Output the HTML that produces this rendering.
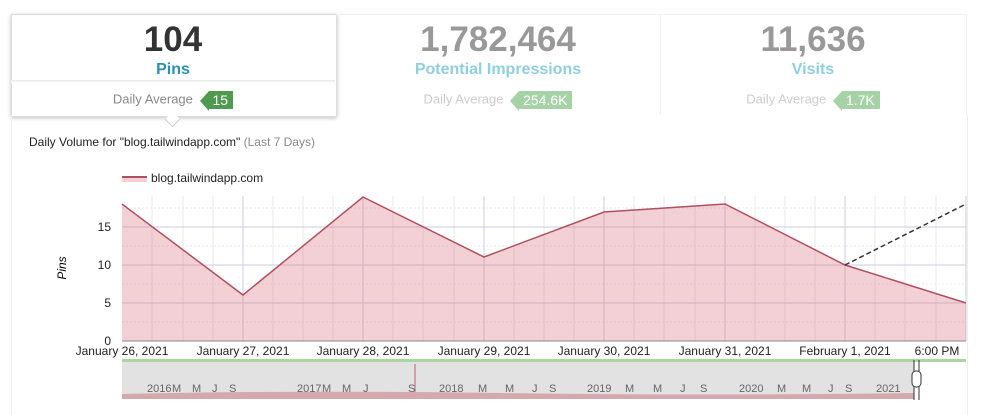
<!DOCTYPE html><html><head><style>
body{margin:0;width:1000px;height:408px;background:#fff;font-family:"Liberation Sans",sans-serif;overflow:hidden;position:relative}
.t{position:absolute;text-align:center}
.n{font-size:35px;font-weight:bold}
.l{font-size:16px;font-weight:bold}
.d{font-size:13px;color:#888}
.tag{display:inline-block;position:relative;color:#fff;font-size:14px;padding:1px 5px 1px 4px;margin-left:12px;vertical-align:middle}
.tag:before{content:"";position:absolute;left:-9px;top:0;border-right:9px solid;border-right-color:inherit;border-top:10px solid transparent;border-bottom:10px solid transparent}
</style></head><body>
<div style="position:absolute;left:11px;top:14px;width:324px;height:101px;border:1px solid #ddd;box-shadow:0 1px 4px rgba(0,0,0,.25);background:#fff"></div>
<div style="position:absolute;left:11px;top:80px;width:324px;height:3px;background:linear-gradient(#e8e8e8,#fff)"></div>
<div style="position:absolute;left:336px;top:14px;width:630px;height:101px;border-top:1px solid #f0f0f0;border-right:1px solid #f0f0f0"></div>
<div style="position:absolute;left:660px;top:14px;width:1px;height:101px;background:#f0f0f0"></div>
<div style="position:absolute;left:11px;top:115px;width:955px;height:300px;border-left:1px solid #eee;border-right:1px solid #eee"></div>
<div style="position:absolute;left:167px;top:114px;width:10px;height:10px;background:#fff;border-right:1px solid #ccc;border-bottom:1px solid #ccc;transform:rotate(45deg)"></div>

<div class="t n" style="left:11px;width:324px;top:20px;color:#333">104</div>
<div class="t l" style="left:11px;width:324px;top:61px;color:#2a8fb0">Pins</div>
<div class="t d" style="left:11px;width:324px;top:91px">Daily Average <span class="tag" style="background:#4e9a4e;border-color:#4e9a4e">15</span></div>

<div class="t n" style="left:336px;width:324px;top:20px;color:#999">1,782,464</div>
<div class="t l" style="left:336px;width:324px;top:61px;color:#8fd0e0">Potential Impressions</div>
<div class="t d" style="left:336px;width:324px;top:91px;color:#ccc">Daily Average <span class="tag" style="background:#a6d3a6;border-color:#a6d3a6">254.6K</span></div>

<div class="t n" style="left:660px;width:306px;top:20px;color:#999">11,636</div>
<div class="t l" style="left:660px;width:306px;top:61px;color:#8fd0e0">Visits</div>
<div class="t d" style="left:660px;width:306px;top:91px;color:#ccc">Daily Average <span class="tag" style="background:#a6d3a6;border-color:#a6d3a6">1.7K</span></div>

<div style="position:absolute;left:29px;top:135px;font-size:12px;color:#222">Daily Volume for "blog.tailwindapp.com" <span style="color:#888">(Last 7 Days)</span></div>

<svg width="1000" height="408" style="position:absolute;left:0;top:0" font-family="Liberation Sans" font-size="12">
<g stroke="#e6e8ee" stroke-width="1">
<path d="M152 196V341M183 196V341M213 196V341M273 196V341M303 196V341M333 196V341M393 196V341M423 196V341M454 196V341M514 196V341M544 196V341M574 196V341M634 196V341M664 196V341M695 196V341M755 196V341M785 196V341M815 196V341M875 196V341M905 196V341M936 196V341"/>
<path d="M122 322H966M122 284H966M122 246H966M122 208H966" stroke-dasharray="2,2"/>
</g>
<g stroke="#ccd" stroke-width="1">
<path d="M243 196V341M363 196V341M484 196V341M604 196V341M725 196V341M845 196V341M966 196V341M122 303H966M122 265H966M122 227H966"/>
</g>
<path d="M122 204L243 295L363 197L484 257L604 212L725 204L845 265L966 303V341H122Z" fill="rgba(220,120,135,.35)"/>
<path d="M122 204L243 295L363 197L484 257L604 212L725 204L845 265L966 303" fill="none" stroke="#b0505e" stroke-width="1.5"/>
<path d="M845 265L966 204" stroke="#333" stroke-width="1.5" stroke-dasharray="5,3"/>
<path d="M122 341H966" stroke="#888"/>
<g fill="#222" text-anchor="end"><text x="111" y="345">0</text><text x="111" y="307">5</text><text x="111" y="269">10</text><text x="111" y="231">15</text></g>
<text transform="translate(66 268) rotate(-90)" font-style="italic" text-anchor="middle">Pins</text>
<path d="M122 177H147" stroke="#b0505e" stroke-width="2"/><rect x="122" y="178" width="25" height="4" fill="rgba(220,120,135,.35)"/>
<text x="151" y="182" fill="#222">blog.tailwindapp.com</text>
<g fill="#222" text-anchor="middle"><text x="122" y="355">January 26, 2021</text><text x="243" y="355">January 27, 2021</text><text x="363" y="355">January 28, 2021</text><text x="484" y="355">January 29, 2021</text><text x="604" y="355">January 30, 2021</text><text x="725" y="355">January 31, 2021</text><text x="845" y="355">February 1, 2021</text><text x="937" y="355">6:00 PM</text></g>
<rect x="122" y="359" width="844" height="3" fill="#a8d8a0"/>
<rect x="122" y="362" width="792" height="37" fill="#e2e2e2"/>
<path d="M122 394Q300 390 500 393T914 393V399H122Z" fill="rgba(200,110,120,.5)"/>
<path d="M415 364V392" stroke="#c06070"/>
<g fill="#666" font-size="11"><text x="147" y="392">2016</text><text x="172" y="392">M</text><text x="192" y="392">M</text><text x="212" y="392">J</text><text x="229" y="392">S</text><text x="297" y="392">2017</text><text x="322" y="392">M</text><text x="342" y="392">M</text><text x="363" y="392">J</text><text x="408" y="392">S</text><text x="439" y="392">2018</text><text x="478" y="392">M</text><text x="505" y="392">M</text><text x="532" y="392">J</text><text x="549" y="392">S</text><text x="587" y="392">2019</text><text x="625" y="392">M</text><text x="653" y="392">M</text><text x="680" y="392">J</text><text x="700" y="392">S</text><text x="739" y="392">2020</text><text x="777" y="392">M</text><text x="802" y="392">M</text><text x="828" y="392">J</text><text x="845" y="392">S</text><text x="876" y="392">2021</text></g>
<path d="M914 360V400M919 360V400" stroke="#333"/>
<rect x="912" y="371" width="9" height="16" rx="4" fill="#fff" stroke="#333"/>
</svg>
</body></html>
